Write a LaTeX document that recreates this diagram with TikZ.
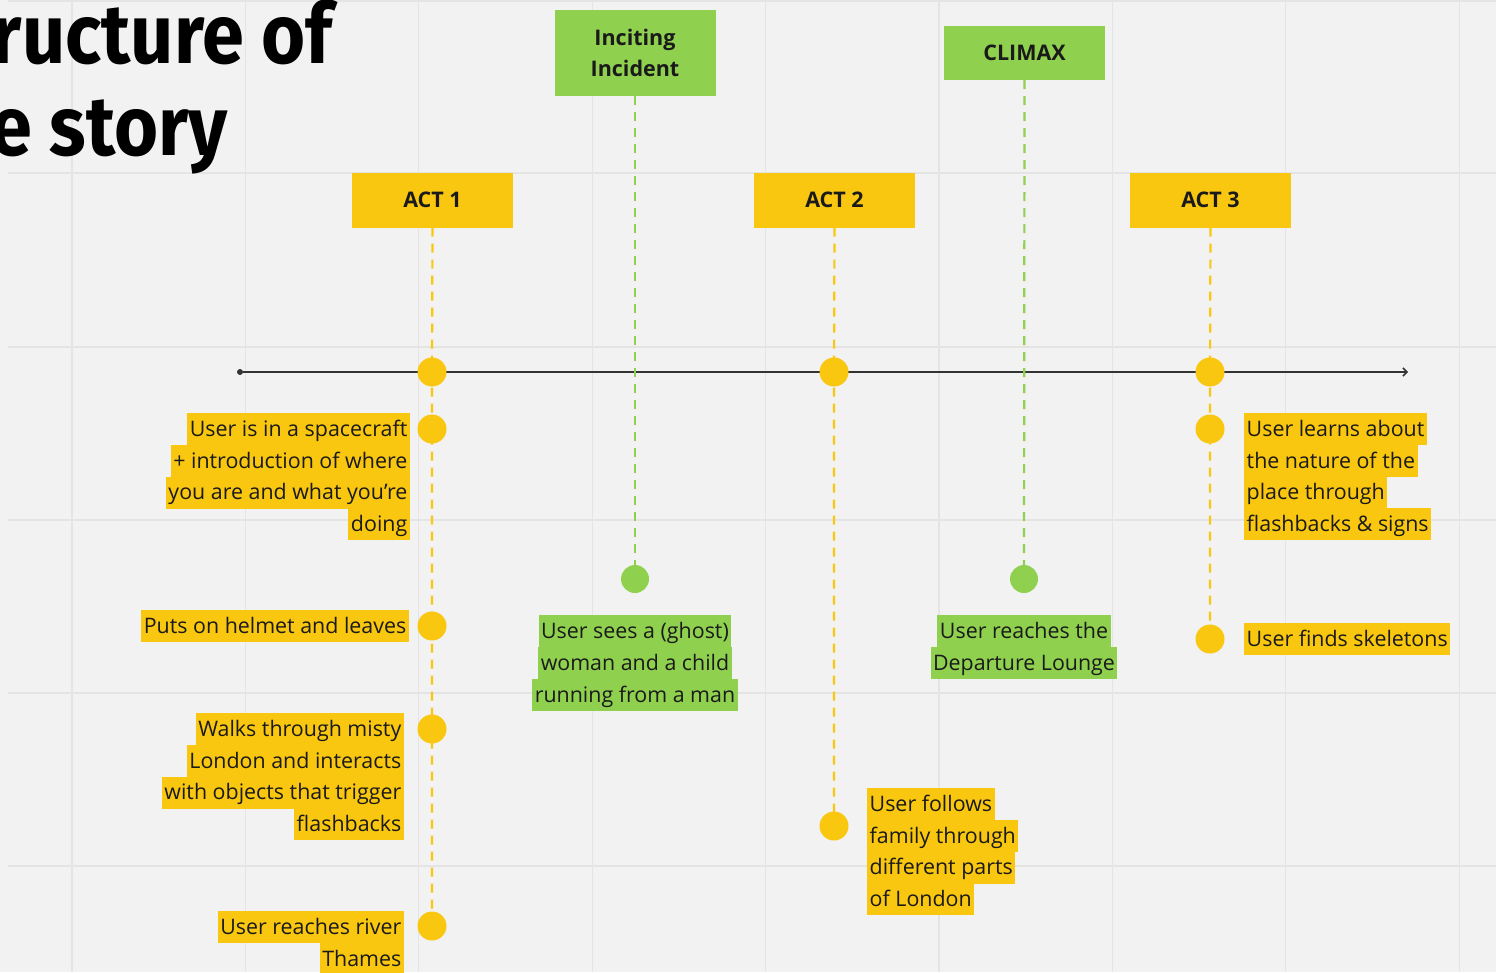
\documentclass[tikz,border=0pt]{standalone}
\usepackage{fontspec}
\setmainfont{Open Sans}
\newfontfamily\titlefont{Fira Sans}
\usetikzlibrary{arrows.meta}
\definecolor{bgc}{HTML}{F2F2F2}
\definecolor{gridc}{HTML}{E4E4E4}
\definecolor{myyellow}{HTML}{FAC710}
\definecolor{mygreen}{HTML}{8FD14F}
\definecolor{txt}{HTML}{1A1A1A}
\definecolor{axis}{HTML}{333333}
\pgfdeclarelayer{bg}
\pgfdeclarelayer{conn}
\pgfsetlayers{bg,conn,main}
\tikzset{
  hl/.style={inner xsep=2.5pt, inner ysep=0pt, text height=18pt, text depth=4pt,
    minimum height=32pt, font=\fontsize{21.4}{32}\selectfont, text=txt},
  hly/.style={hl, fill=myyellow},
  hlg/.style={hl, fill=mygreen},
  actbox/.style={fill=myyellow, minimum width=161pt, minimum height=55pt, inner sep=0pt,
    font=\fontsize{21.5}{31}\selectfont\bfseries, text=txt},
  greenbox/.style={fill=mygreen, minimum width=161pt, inner sep=0pt, align=center,
    font=\fontsize{21.5}{31}\selectfont\bfseries, text=txt},
  ydot/.style={circle, fill=myyellow, minimum size=29pt, inner sep=0pt},
  gdot/.style={circle, fill=mygreen, minimum size=28pt, inner sep=0pt},
  ydash/.style={draw=myyellow, line width=2.2pt, dash pattern=on 9pt off 7pt},
  gdash/.style={draw=mygreen, line width=2.2pt, dash pattern=on 9pt off 7pt},
  gridline/.style={draw=gridc, line width=1.3pt},
  titletext/.style={anchor=base east, inner sep=0pt, font=\fontsize{84}{92}\selectfont\titlefont\bfseries, text=black}
}
\begin{document}
\begin{tikzpicture}[x=1pt, y=-1pt]
\useasboundingbox (0,0) rectangle (1496,972);
\clip (0,0) rectangle (1496,972);
\begin{pgfonlayer}{bg}
  \fill[bgc] (0,0) rectangle (1496,972);
  \foreach \gx in {72,245.4,418.8,592.2,765.6,939,1112.4,1285.8,1459.2}
    \draw[gridline] (\gx,0) -- (\gx,972);
  \foreach \gy in {1,173,347,520,693,866}
    \draw[gridline] (8,\gy) -- (1496,\gy);
\end{pgfonlayer}

% title
\node[titletext] (title1) at (333,63) {\scalebox{0.9}[1]{ructure of}};
\node[titletext] (title2) at (228,155) {\scalebox{0.9}[1]{e story}};

% header boxes
\node[actbox] (act1) at (432.5,200) {ACT 1};
\node[actbox] (act2) at (834.5,200) {ACT 2};
\node[actbox] (act3) at (1210.5,200) {ACT 3};
\node[greenbox, minimum height=86pt] (inc) at (635,53) {Inciting\\Incident};
\node[greenbox, minimum height=54pt] (clim) at (1024.5,53) {CLIMAX};

% timeline
\node[circle, fill=axis, minimum size=6pt, inner sep=0pt] (tl0) at (240,372) {};
\coordinate (tlend) at (1408,372);

% dots
\node[ydot] (a1t) at (432,372) {};
\node[ydot] (a1a) at (432,429) {};
\node[ydot] (a1b) at (432,626) {};
\node[ydot] (a1c) at (432,729) {};
\node[ydot] (a1d) at (432,926) {};
\node[ydot] (a2t) at (834,372) {};
\node[ydot] (a2a) at (834,826) {};
\node[ydot] (a3t) at (1210,372) {};
\node[ydot] (a3a) at (1210,429) {};
\node[ydot] (a3b) at (1210,639) {};
\node[gdot] (g1) at (635,579) {};
\node[gdot] (g2) at (1024,579) {};

\begin{pgfonlayer}{conn}
  \draw[axis, line width=1.6pt, -{Straight Barb[length=4pt, width=8pt]}] (tl0) -- (tlend);
  \draw[ydash] (act1.south) -- (a1t.center) -- (a1a.center) -- (a1b.center) -- (a1c.center) -- (a1d.center);
  \draw[ydash] (act2.south) -- (a2t.center) -- (a2a.center);
  \draw[ydash] (act3.south) -- (a3t.center) -- (a3a.center) -- (a3b.center);
  \draw[gdash] (inc.south) -- (g1.center);
  \draw[gdash] (clim.south) -- (g2.center);
\end{pgfonlayer}

% ACT 1 texts
\node[hly, anchor=east] (t1a) at (410,429) {User is in a spacecraft};
\node[hly, anchor=east] (t1b) at (410,461) {+ introduction of where};
\node[hly, anchor=east] (t1c) at (410,492.5) {you are and what you're};
\node[hly, anchor=east] (t1d) at (410,524) {doing};
\node[hly, anchor=east] (t2a) at (409,626) {Puts on helmet and leaves};
\node[hly, anchor=east] (t3a) at (404,729) {Walks through misty};
\node[hly, anchor=east] (t3b) at (404,761) {London and interacts};
\node[hly, anchor=east] (t3c) at (404,792.5) {with objects that trigger};
\node[hly, anchor=east] (t3d) at (404,824) {flashbacks};
\node[hly, anchor=east] (t4a) at (404,927) {User reaches river};
\node[hly, anchor=east] (t4b) at (404,959) {Thames};

% green texts
\node[hlg] (g1a) at (635,631) {User sees a (ghost)};
\node[hlg] (g1b) at (635,663) {woman and a child};
\node[hlg] (g1c) at (635,695) {running from a man};
\node[hlg] (g2a) at (1024,631) {User reaches the};
\node[hlg] (g2b) at (1024,663) {Departure Lounge};

% ACT 2 texts
\node[hly, anchor=west] (t5a) at (867,804) {User follows};
\node[hly, anchor=west] (t5b) at (867,836) {family through};
\node[hly, anchor=west] (t5c) at (867,867.5) {different parts};
\node[hly, anchor=west] (t5d) at (867,899) {of London};

% ACT 3 texts
\node[hly, anchor=west] (t6a) at (1244,429) {User learns about};
\node[hly, anchor=west] (t6b) at (1244,461) {the nature of the};
\node[hly, anchor=west] (t6c) at (1244,492.5) {place through};
\node[hly, anchor=west] (t6d) at (1244,524) {flashbacks \& signs};
\node[hly, anchor=west] (t7a) at (1244,639) {User finds skeletons};
\end{tikzpicture}
\end{document}
